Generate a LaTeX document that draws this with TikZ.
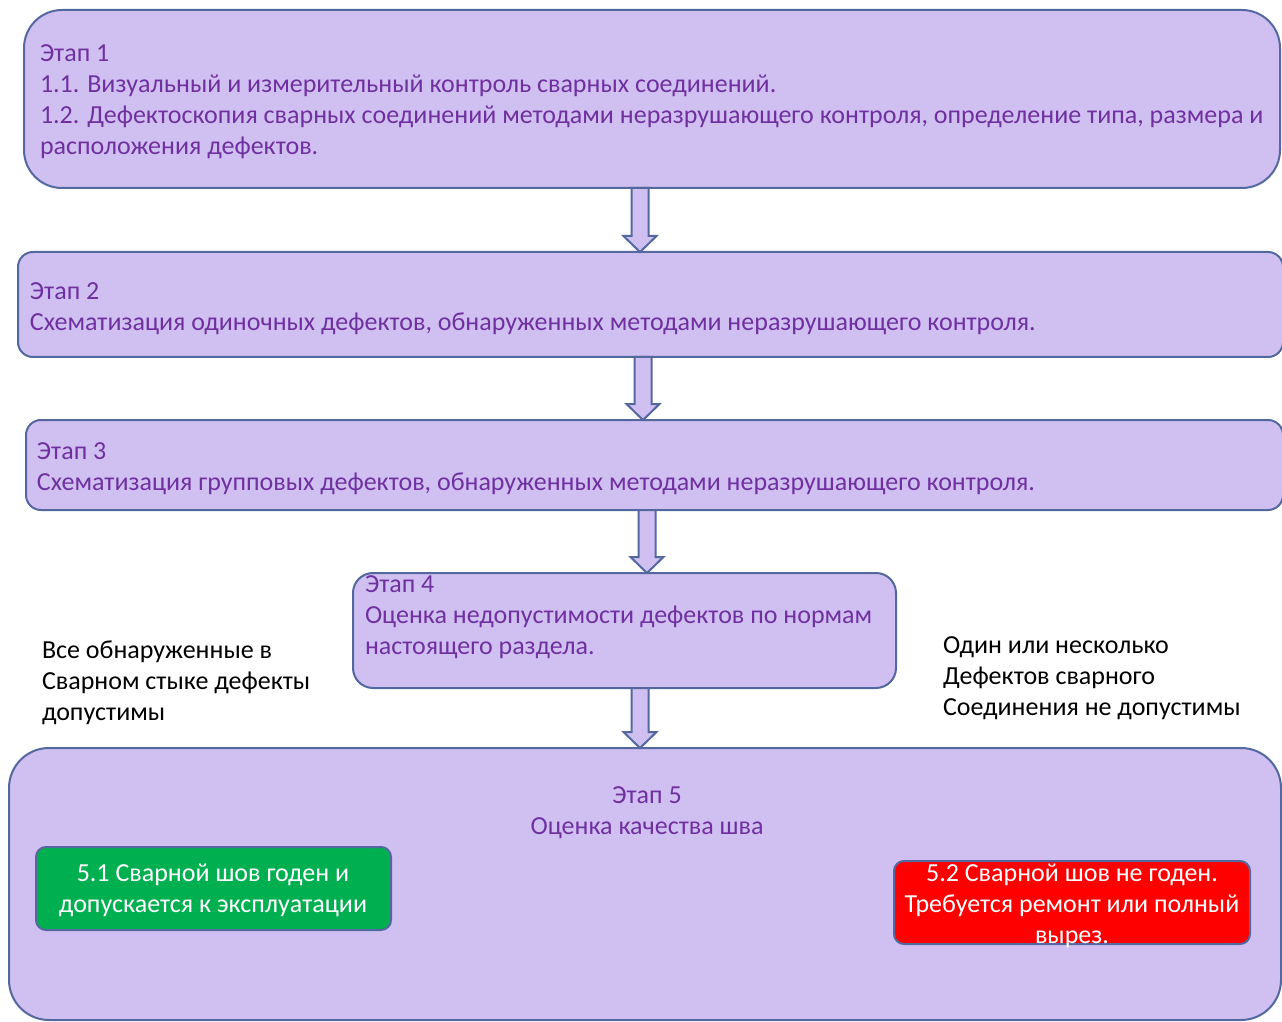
\documentclass[tikz,border=0pt]{standalone}
\usepackage{fontspec}
\setmainfont{Carlito}
\usetikzlibrary{calc}
\definecolor{lav}{RGB}{208,192,242}
\definecolor{bord}{RGB}{84,104,160}
\definecolor{txt}{RGB}{112,48,160}
\definecolor{okgreen}{RGB}{0,176,80}
\definecolor{badred}{RGB}{255,0,0}
\newcommand\blockarr[3]{%
  \filldraw[arrowstyle] ($(#2.south -| #1)+(-8.5,0)$) -- ($(#3.north -| #1)+(-8.5,-16)$) -- ($(#3.north -| #1)+(-16.5,-16)$) -- (#3.north -| #1) -- ($(#3.north -| #1)+(16.5,-16)$) -- ($(#3.north -| #1)+(8.5,-16)$) -- ($(#2.south -| #1)+(8.5,0)$) -- cycle;}
\tikzset{
  box/.style={draw=bord, fill=lav, line width=1pt, inner sep=0pt, outer sep=0pt, anchor=north west},
  res/.style={draw=bord, line width=1pt, inner sep=0pt, outer sep=0pt, anchor=north west, rounded corners=5pt},
  lbl/.style={inner sep=0pt, outer sep=0pt, anchor=base west, align=left, font=\fontsize{13}{15.5}\selectfont},
  clbl/.style={inner sep=0pt, outer sep=0pt, anchor=base, align=center, font=\fontsize{13}{15.5}\selectfont},
  arrowstyle/.style={draw=bord, fill=lav, line width=1pt, line join=miter},
}
\begin{document}
\begin{tikzpicture}[x=0.5pt, y=-0.5pt]
\useasboundingbox[fill=white] (0,0) rectangle (1282,1022);
% boxes
\node[box, rounded corners=19pt, minimum width=628pt, minimum height=89pt] (b1) at (24,10) {};
\node[box, rounded corners=7.5pt, minimum width=632.5pt, minimum height=52.5pt] (b2) at (18,252) {};
\node[box, rounded corners=7.5pt, minimum width=628.5pt, minimum height=45pt] (b3) at (26,420) {};
\node[box, rounded corners=10pt, minimum width=271.5pt, minimum height=57.5pt] (b4) at (353,573) {};
\node[box, rounded corners=20pt, minimum width=636pt, minimum height=136pt] (b5) at (9,748) {};
\node[res, fill=okgreen, minimum width=177.5pt, minimum height=41.5pt] (g) at (36,847) {};
\node[res, fill=badred, minimum width=178pt, minimum height=41.5pt] (r) at (894,861) {};
% arrow x positions
\coordinate (x1) at (640,0);
\coordinate (x2) at (643,0);
\coordinate (x3) at (647,0);
\coordinate (x4) at (640,0);
\blockarr{x1}{b1}{b2}
\blockarr{x2}{b2}{b3}
\blockarr{x3}{b3}{b4}
\blockarr{x4}{b4}{b5}
% texts (anchor = baseline of last line)
\node[lbl, text=txt] (t1) at (40,155) {Этап 1\\1.1. Визуальный и измерительный контроль сварных соединений.\\1.2. Дефектоскопия сварных соединений методами неразрушающего контроля, определение типа, размера и\\расположения дефектов.};
\node[lbl, text=txt] (t2) at (30,330) {Этап 2\\Схематизация одиночных дефектов, обнаруженных методами неразрушающего контроля.};
\node[lbl, text=txt] (t3) at (37,490) {Этап 3\\Схематизация групповых дефектов, обнаруженных методами неразрушающего контроля.};
\node[lbl, text=txt] (t4) at (365,654) {Этап 4\\Оценка недопустимости дефектов по нормам\\настоящего раздела.};
\node[clbl, text=txt] (t5) at (647,834) {Этап 5\\Оценка качества шва};
\node[lbl, text=black] (tl) at (42,720) {Все обнаруженные в\\Сварном стыке дефекты\\допустимы};
\node[lbl, text=black] (tr) at (943,715) {Один или несколько\\Дефектов сварного\\Соединения не допустимы};
\node[clbl, text=white] (tg) at (213,912) {5.1 Сварной шов годен и\\допускается к эксплуатации};
\node[clbl, text=white] (tred) at (1072,943) {5.2 Сварной шов не годен.\\Требуется ремонт или полный\\вырез.};
\end{tikzpicture}
\end{document}
